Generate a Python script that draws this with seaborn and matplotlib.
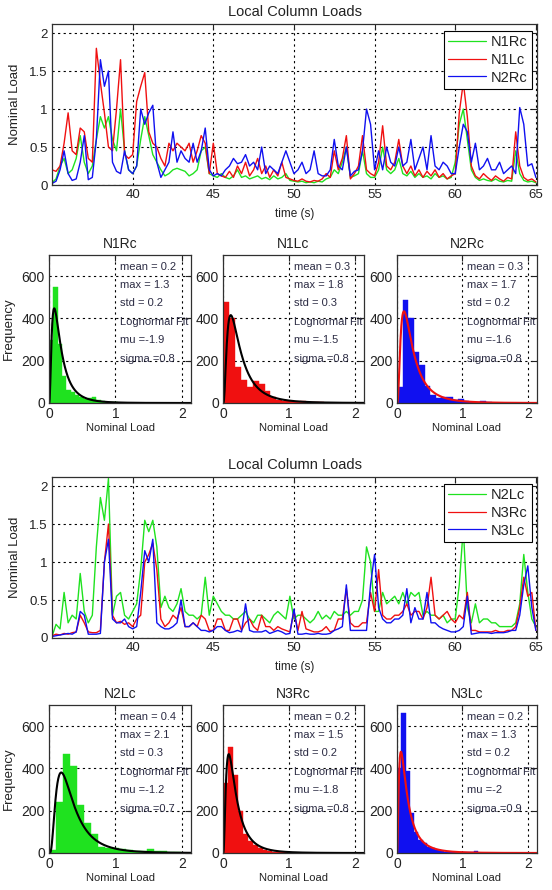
import numpy as np
import pandas as pd
import seaborn as sns
import matplotlib
matplotlib.use("Agg")
import matplotlib.pyplot as plt
from matplotlib.ticker import FuncFormatter

# ---- time series (sampled every 0.25 s from 35 s to 65 s) ----
t_start, t_step = 35.0, 0.25

n1rc = [0.03, 0.08, 0.25, 0.35, 0.15, 0.20, 0.35, 0.65,
        0.30, 0.15, 0.25, 0.60, 0.90, 0.75, 0.90, 0.60,
        0.45, 1.00, 0.45, 0.20, 0.15, 0.25, 0.60, 0.90,
        0.65, 0.40, 0.30, 0.20, 0.12, 0.15, 0.20, 0.22,
        0.20, 0.18, 0.12, 0.15, 0.20, 0.45, 0.50, 0.15,
        0.12, 0.10, 0.15, 0.10, 0.08, 0.12, 0.20, 0.10,
        0.12, 0.08, 0.10, 0.12, 0.08, 0.10, 0.07, 0.12,
        0.08, 0.10, 0.15, 0.06, 0.05, 0.04, 0.05, 0.03,
        0.04, 0.03, 0.05, 0.04, 0.08, 0.10, 0.20, 0.15,
        0.30, 0.50, 0.10, 0.12, 0.15, 0.45, 0.15, 0.10,
        0.10, 0.20, 0.50, 0.20, 0.15, 0.20, 0.35, 0.15,
        0.12, 0.18, 0.10, 0.15, 0.10, 0.12, 0.08, 0.15,
        0.10, 0.12, 0.08, 0.10, 0.30, 0.80, 1.00, 0.60,
        0.20, 0.10, 0.06, 0.08, 0.06, 0.05, 0.08, 0.05,
        0.04, 0.06, 0.05, 0.45, 0.15, 0.06, 0.04, 0.05,
        0.03]
n1lc = [0.20, 0.18, 0.25, 0.55, 0.95, 0.45, 0.40, 0.75,
        0.70, 0.35, 0.30, 1.80, 1.35, 0.95, 0.50, 0.45,
        1.00, 1.65, 0.40, 0.35, 0.40, 1.10, 1.30, 1.48,
        0.70, 0.55, 0.50, 0.35, 0.25, 0.55, 0.45, 0.55,
        0.50, 0.45, 0.55, 0.30, 0.45, 0.65, 0.55, 0.15,
        0.55, 0.15, 0.12, 0.10, 0.18, 0.10, 0.25, 0.15,
        0.30, 0.12, 0.20, 0.35, 0.15, 0.25, 0.10, 0.20,
        0.12, 0.30, 0.10, 0.08, 0.06, 0.05, 0.08, 0.05,
        0.04, 0.06, 0.05, 0.08, 0.15, 0.10, 0.45, 0.20,
        0.35, 0.65, 0.08, 0.15, 0.25, 0.65, 0.20, 0.15,
        0.12, 0.30, 0.78, 0.25, 0.20, 0.30, 0.60, 0.25,
        0.15, 0.25, 0.12, 0.20, 0.10, 0.18, 0.12, 0.20,
        0.10, 0.15, 0.08, 0.12, 0.15, 0.95, 1.35, 0.90,
        0.25, 0.12, 0.08, 0.15, 0.10, 0.06, 0.12, 0.08,
        0.05, 0.10, 0.08, 0.70, 0.25, 0.10, 0.06, 0.08,
        0.04]
n2rc = [0.02, 0.05, 0.20, 0.45, 0.15, 0.06, 0.08, 0.30,
        0.65, 0.07, 0.10, 0.60, 1.65, 1.30, 1.50, 0.30,
        0.18, 0.15, 0.45, 0.20, 0.15, 0.25, 1.00, 0.80,
        0.95, 1.05, 0.30, 0.10, 0.20, 0.30, 0.70, 0.30,
        0.45, 0.35, 0.30, 0.55, 0.30, 0.45, 0.75, 0.20,
        0.12, 0.15, 0.12, 0.20, 0.25, 0.35, 0.28, 0.30,
        0.40, 0.25, 0.30, 0.20, 0.50, 0.15, 0.25, 0.20,
        0.15, 0.30, 0.45, 0.30, 0.15, 0.20, 0.30, 0.15,
        0.20, 0.45, 0.15, 0.12, 0.12, 0.20, 0.60, 0.25,
        0.20, 0.50, 0.12, 0.18, 0.20, 0.45, 1.00, 0.80,
        0.20, 0.45, 0.20, 0.50, 0.30, 0.25, 0.50, 0.25,
        0.30, 0.60, 0.20, 0.35, 0.50, 0.20, 0.65, 0.25,
        0.20, 0.30, 0.25, 0.15, 0.15, 0.50, 0.80, 0.70,
        0.30, 0.55, 0.20, 0.25, 0.35, 0.20, 0.20, 0.30,
        0.15, 0.20, 0.25, 0.15, 1.02, 0.80, 0.25, 0.28,
        0.10]

n2lc = [0.02, 0.18, 0.12, 0.60, 0.20, 0.30, 0.25, 0.85,
        0.35, 0.20, 0.30, 1.20, 1.85, 1.55, 2.10, 0.30,
        0.55, 0.60, 0.30, 0.25, 0.35, 0.45, 0.90, 1.55,
        1.40, 1.55, 1.20, 0.40, 0.55, 0.40, 0.35, 0.45,
        0.65, 0.35, 0.30, 0.30, 0.25, 0.30, 0.80, 0.30,
        0.55, 0.45, 0.35, 0.30, 0.30, 0.25, 0.25, 0.30,
        0.35, 0.25, 0.20, 0.30, 0.30, 0.25, 0.20, 0.30,
        0.35, 0.30, 0.25, 0.55, 0.25, 0.30, 0.30, 0.25,
        0.20, 0.25, 0.35, 0.25, 0.30, 0.25, 0.35, 0.30,
        0.30, 0.35, 0.30, 0.35, 0.35, 0.50, 1.20, 1.00,
        0.35, 0.35, 0.60, 0.45, 0.50, 0.55, 0.45, 0.60,
        0.45, 0.60, 0.55, 0.60, 0.30, 0.35, 0.30, 0.30,
        0.25, 0.30, 0.20, 0.25, 0.25, 0.70, 1.45, 0.40,
        0.20, 0.45, 0.20, 0.25, 0.25, 0.20, 0.20, 0.15,
        0.15, 0.15, 0.15, 0.20, 0.45, 1.10, 0.60, 0.25,
        0.15]
n3rc = [0.03, 0.05, 0.04, 0.06, 0.05, 0.07, 0.08, 0.30,
        0.20, 0.08, 0.07, 0.07, 0.10, 1.00, 1.50, 0.30,
        0.20, 0.22, 0.18, 0.20, 0.15, 0.25, 0.30, 1.00,
        1.10, 1.25, 0.90, 0.25, 0.15, 0.20, 0.30, 0.25,
        0.40, 0.15, 0.15, 0.20, 0.15, 0.30, 0.25, 0.10,
        0.10, 0.25, 0.25, 0.10, 0.10, 0.25, 0.25, 0.10,
        0.20, 0.25, 0.15, 0.10, 0.30, 0.15, 0.15, 0.10,
        0.15, 0.12, 0.10, 0.08, 0.35, 0.10, 0.35, 0.12,
        0.10, 0.08, 0.08, 0.10, 0.15, 0.08, 0.10, 0.25,
        0.25, 0.65, 0.20, 0.15, 0.15, 0.20, 0.20, 0.60,
        0.35, 0.90, 0.30, 0.25, 0.25, 0.30, 0.30, 0.35,
        0.45, 0.30, 0.35, 0.35, 0.25, 0.40, 0.80, 0.30,
        0.25, 0.30, 0.35, 0.25, 0.20, 0.30, 0.25, 0.60,
        0.10, 0.10, 0.08, 0.08, 0.08, 0.08, 0.10, 0.08,
        0.08, 0.10, 0.10, 0.15, 0.40, 0.80, 0.55, 0.60,
        0.10]
n3lc = [0.02, 0.03, 0.04, 0.05, 0.06, 0.05, 0.08, 0.35,
        0.30, 0.05, 0.05, 0.05, 0.06, 1.00, 1.30, 0.25,
        0.20, 0.20, 0.25, 0.15, 0.12, 0.15, 0.60, 1.15,
        1.00, 1.30, 0.20, 0.15, 0.12, 0.12, 0.15, 0.20,
        0.50, 0.15, 0.15, 0.20, 0.15, 0.10, 0.10, 0.08,
        0.10, 0.15, 0.15, 0.10, 0.07, 0.08, 0.10, 0.08,
        0.45, 0.10, 0.08, 0.08, 0.08, 0.10, 0.06, 0.08,
        0.10, 0.08, 0.05, 0.06, 0.38, 0.05, 0.05, 0.06,
        0.05, 0.05, 0.06, 0.05, 0.05, 0.06, 0.10, 0.12,
        0.15, 0.70, 0.10, 0.10, 0.10, 0.10, 0.10, 0.70,
        1.10, 0.40, 0.25, 0.20, 0.20, 0.25, 0.25, 0.30,
        0.65, 0.20, 0.40, 0.25, 0.25, 0.60, 0.20, 0.20,
        0.15, 0.12, 0.10, 0.08, 0.08, 0.10, 0.15, 0.55,
        0.05, 0.06, 0.07, 0.07, 0.07, 0.06, 0.07, 0.07,
        0.07, 0.08, 0.10, 0.10, 0.30, 0.70, 0.95, 0.40,
        0.10]

# ---- histograms: 20 bins from 0 to max ----
hist_names = ["N1Rc", "N1Lc", "N2Rc", "N2Lc", "N3Rc", "N3Lc"]
hist_mean = [0.2, 0.3, 0.3, 0.4, 0.2, 0.2]
hist_max = [1.3, 1.8, 1.7, 2.1, 1.5, 1.3]
hist_std = [0.2, 0.3, 0.2, 0.3, 0.2, 0.2]
fit_mu = [-1.9, -1.5, -1.6, -1.2, -1.8, -2]
fit_sigma = [0.8, 0.8, 0.8, 0.7, 0.8, 0.9]
n_samples = 1500

counts_n1rc = [300, 550, 280, 130, 60, 50, 40, 30, 20, 22, 28, 15, 8, 6, 4, 3, 2, 1, 1, 1]
counts_n1lc = [480, 400, 170, 110, 75, 105, 90, 55, 30, 15, 10, 8, 6, 8, 7, 4, 3, 2, 1, 1]
counts_n2rc = [75, 485, 400, 240, 180, 80, 40, 25, 30, 30, 15, 20, 10, 5, 5, 10, 4, 2, 1, 1]
counts_n2lc = [15, 240, 470, 410, 225, 140, 90, 30, 25, 25, 20, 15, 10, 8, 20, 10, 8, 5, 3, 2]
counts_n3rc = [330, 500, 370, 200, 90, 55, 40, 25, 15, 10, 6, 4, 3, 2, 2, 2, 1, 1, 1, 1]
counts_n3lc = [400, 660, 390, 190, 100, 60, 45, 30, 22, 15, 10, 6, 5, 4, 3, 3, 3, 3, 8, 2]
hist_counts = [counts_n1rc, counts_n1lc, counts_n2rc, counts_n2lc, counts_n3rc, counts_n3lc]

GREEN, RED, BLUE = "#1fe21f", "#f01010", "#1010f0"
bar_colors = [GREEN, RED, BLUE, GREEN, RED, BLUE]
fit_colors = ["black", "black", RED, "black", "black", RED]

sns.set_style("white")
plt.rcParams["font.family"] = ["Liberation Sans", "DejaVu Sans"]
plt.rcParams["text.color"] = "#222222"
plt.rcParams["axes.labelcolor"] = "#222222"
plt.rcParams["xtick.color"] = "#222222"
plt.rcParams["ytick.color"] = "#222222"

W, H = 552, 890
fig = plt.figure(figsize=(W / 100, H / 100), dpi=100)


def box(left, top, right, bottom):
    return [left / W, 1 - bottom / H, (right - left) / W, (bottom - top) / H]


def style_axes(ax):
    for s in ax.spines.values():
        s.set_color("#303030")
        s.set_linewidth(0.9)
    ax.tick_params(direction="in", length=4, width=0.8, labelsize=9.5, pad=3,
                   top=True, right=True)
    ax.grid(True, linestyle=(0, (2, 3)), color="black", linewidth=0.8)
    ax.set_axisbelow(True)


fmt = FuncFormatter(lambda v, p: f"{v:g}")


def series_panel(top, bottom, names, series):
    ax = fig.add_axes(box(52, top, 537, bottom))
    t = t_start + t_step * np.arange(len(series[0]))
    for name, vals, col in zip(names, series, [GREEN, RED, BLUE]):
        df = pd.DataFrame({"t": t, "y": vals})
        sns.lineplot(data=df, x="t", y="y", color=col, linewidth=1.0, label=name, ax=ax)
    ax.set_xlim(35, 65.07)
    ax.set_ylim(0, 2.12)
    ax.set_xticks([40, 45, 50, 55, 60, 65])
    ax.set_yticks([0, 0.5, 1, 1.5, 2])
    ax.yaxis.set_major_formatter(fmt)
    style_axes(ax)
    ax.set_title("Local Column Loads", fontsize=10.5, pad=6)
    ax.set_xlabel("time (s)", fontsize=8.5)
    ax.xaxis.set_label_coords(0.5, -(29 / 161))
    ax.xaxis.label.set_va("center")
    ax.set_ylabel("Nominal Load", fontsize=9.5)
    ax.yaxis.set_label_coords(-(37 / 485), 0.5)
    ax.yaxis.label.set_va("center")
    leg = ax.legend(loc="upper right", bbox_to_anchor=(0.99, 0.957), borderaxespad=0,
                    fontsize=10.5, handlelength=2.6, handletextpad=0.35,
                    labelspacing=0.25, borderpad=0.3, fancybox=False, framealpha=1)
    leg.get_frame().set_edgecolor("black")
    leg.get_frame().set_linewidth(0.8)
    for line in leg.get_lines():
        line.set_linewidth(0.9)


def hist_panel(left, right, top, bottom, i, show_ylabel):
    ax = fig.add_axes(box(left, top, right, bottom))
    edges = np.linspace(0, hist_max[i], 21)
    hdf = pd.DataFrame({"c": (edges[:-1] + edges[1:]) / 2,
                        "w": np.asarray(hist_counts[i], dtype=float)})
    sns.histplot(data=hdf, x="c", weights="w", bins=list(edges), color=bar_colors[i],
                 alpha=1, linewidth=0.3, edgecolor=bar_colors[i], ax=ax)
    bw = edges[1] - edges[0]
    xs = np.linspace(0.002, 2.15, 500)
    pdf = np.exp(-(np.log(xs) - fit_mu[i]) ** 2 / (2 * fit_sigma[i] ** 2)) / (
        xs * fit_sigma[i] * np.sqrt(2 * np.pi))
    sns.lineplot(x=xs, y=pdf * n_samples * bw, color=fit_colors[i], linewidth=1.5, ax=ax)
    ax.set_xlim(0, 2.14)
    ax.set_ylim(0, 700)
    ax.set_xticks([0, 1, 2])
    ax.set_yticks([0, 200, 400, 600])
    style_axes(ax)
    ax.tick_params(labelsize=10)
    ax.set_title(hist_names[i], fontsize=10, pad=5)
    ax.set_xlabel("Nominal Load", fontsize=8)
    ax.xaxis.set_label_coords(0.5, -(25 / 148))
    ax.xaxis.label.set_va("center")
    if show_ylabel:
        ax.set_ylabel("Frequency", fontsize=9.5)
        ax.yaxis.set_label_coords(-(40 / 142), 0.5)
        ax.yaxis.label.set_va("center")
    else:
        ax.set_ylabel("")
    lines = [f"mean = {hist_mean[i]:g}", f"max = {hist_max[i]:g}", f"std = {hist_std[i]:g}",
             "Lognormal Fit", f"mu ={fit_mu[i]:g}", f"sigma ={fit_sigma[i]:g}"]
    for txt, yv in zip(lines, [644, 557, 472, 383, 297, 210]):
        ax.text(1.07, yv, txt, fontsize=8, color="#2c2c44", va="center", ha="left")


series_panel(24, 185, ["N1Rc", "N1Lc", "N2Rc"], [n1rc, n1lc, n2rc])
series_panel(477, 638, ["N2Lc", "N3Rc", "N3Lc"], [n2lc, n3rc, n3lc])

cols = [(49, 191), (223, 364), (397, 537)]
for j, (l, r) in enumerate(cols):
    hist_panel(l, r, 255, 403, j, j == 0)
    hist_panel(l, r, 705, 853, j + 3, j == 0)

fig.savefig("out.png", dpi=100)
